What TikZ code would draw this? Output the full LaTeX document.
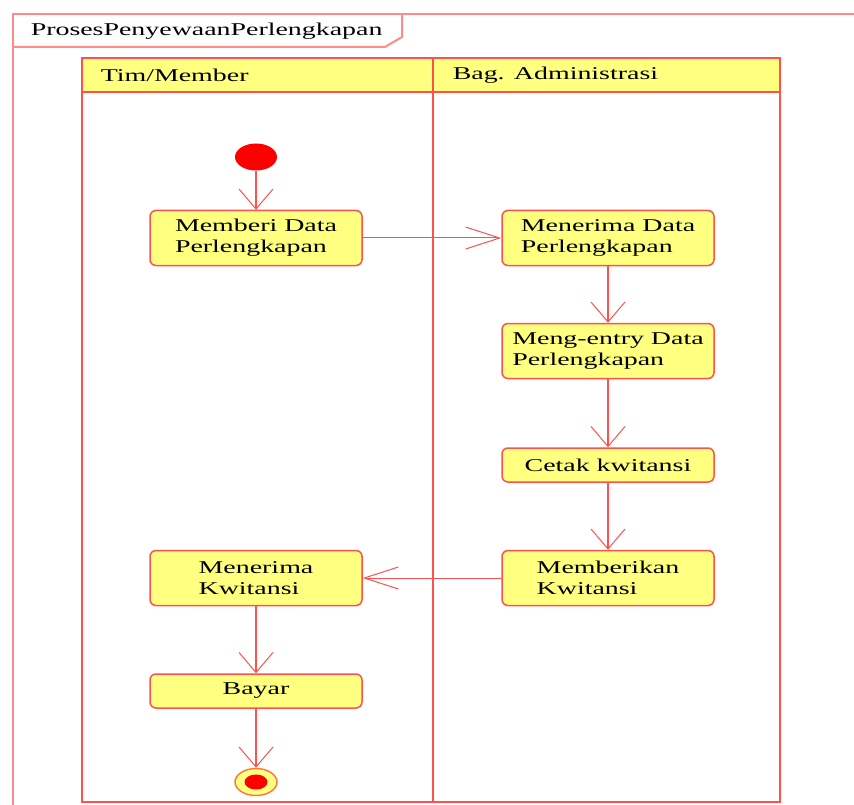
\documentclass[tikz,border=0pt]{standalone}
\usepackage{fontspec}
\setmainfont{Liberation Serif}[FakeStretch=1.55]
\usetikzlibrary{arrows.meta, shapes.geometric}
\definecolor{cred}{HTML}{FF5050}
\definecolor{cpink}{HTML}{FF8A8A}
\definecolor{corange}{HTML}{FF7A40}
\definecolor{cyellow}{HTML}{FFFF80}
\tikzset{
  every picture/.style={font=\fontsize{18}{21}\selectfont, line width=1.5pt},
  act/.style={draw=cred, fill=cyellow, rounded corners=6pt, align=left, minimum width=212pt, minimum height=#1, inner sep=2pt},
  act/.default=55pt,
  flow/.style={-{Straight Barb[length=20pt, width=34pt, line width=1pt]}, draw=cred, line width=2pt},
  hflow/.style={-{Straight Barb[length=34pt, width=22pt, line width=1pt]}, draw=cred, line width=1pt},
  lane/.style={draw=cred, line width=1.5pt},
  head/.style={anchor=west, inner sep=0pt},
}

\begin{document}
\begin{tikzpicture}[x=1pt, y=-1pt]
  \useasboundingbox (0,0) rectangle (854,805);
  % frame and title tab
  \draw[cpink, line width=2pt] (854,14) -- (13,14) -- (13,805);
  \draw[cpink, line width=2pt] (13,47) -- (385,47) -- (402,37) -- (402,14);
  \node[head] (title) at (30,31) {ProsesPenyewaanPerlengkapan};
  % swimlanes
  \draw[lane, fill=cyellow] (82,58) rectangle (433,92);
  \draw[lane, fill=cyellow] (433,58) rectangle (780,92);
  \draw[lane] (82,58) rectangle (780,802);
  \draw[lane] (433,58) -- (433,802);
  \node[head] (lane1) at (100,75) {Tim/Member};
  \node[head] (lane2) at (452,75) {Bag. Administrasi};
  % activities
  \node[ellipse, fill=red, minimum width=42pt, minimum height=27pt, inner sep=0pt] (start) at (256,157) {};
  \node[act] (memberi) at (256,238) {Memberi Data\\Perlengkapan};
  \node[act] (terimaData) at (608,238) {Menerima Data\\Perlengkapan};
  \node[act] (entry) at (608,351) {Meng-entry Data\\Perlengkapan};
  \node[act=34pt] (cetak) at (608,465) {Cetak kwitansi};
  \node[act] (berikan) at (608,578) {Memberikan\\Kwitansi};
  \node[act] (terimaKw) at (256,578) {Menerima\\Kwitansi};
  \node[act=34pt] (bayar) at (256,691) {Bayar};
  \node[ellipse, draw=corange, fill=cyellow, minimum width=42pt, minimum height=27pt, inner sep=0pt] (stop) at (256,782) {};
  \node[ellipse, fill=red, minimum width=23pt, minimum height=15pt, inner sep=0pt] (stopdot) at (256,782) {};
  % flows
  \draw[flow] (start) -- (memberi);
  \draw[hflow] (memberi) -- (terimaData);
  \foreach \a/\b in {terimaData/entry, entry/cetak, cetak/berikan} {\draw[flow] (\a) -- (\b);}
  \draw[hflow] (berikan) -- (terimaKw);
  \draw[flow] (terimaKw) -- (bayar);
  \draw[flow] (bayar) -- (stop);
\end{tikzpicture}
\end{document}
